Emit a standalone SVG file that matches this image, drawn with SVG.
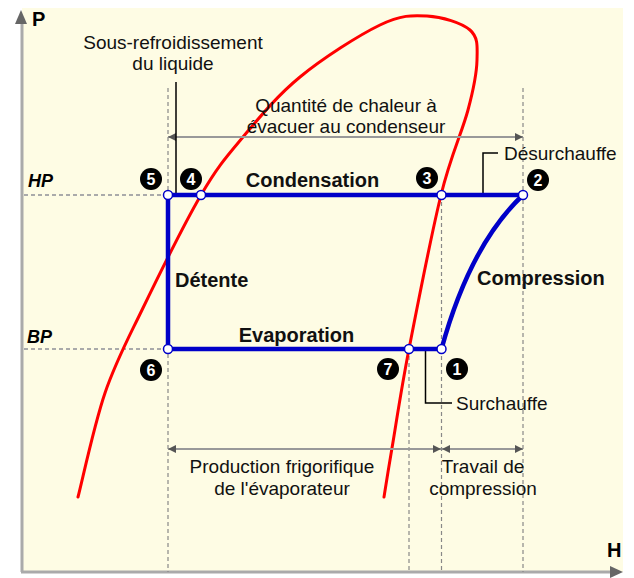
<svg xmlns="http://www.w3.org/2000/svg" width="634" height="578" viewBox="0 0 634 578">
<defs>
<style>
.reg{font-family:"Liberation Sans",Arial,sans-serif;font-size:19px;fill:#111}
.bold{font-family:"Liberation Sans",Arial,sans-serif;font-size:20px;font-weight:bold;fill:#111}
.axl{font-family:"Liberation Sans",Arial,sans-serif;font-size:20px;font-weight:bold;fill:#000}
.ital{font-family:"Liberation Sans",Arial,sans-serif;font-size:18px;font-weight:bold;font-style:italic;fill:#000}
.num{font-family:"Liberation Sans",Arial,sans-serif;font-size:16px;font-weight:bold;fill:#fff;text-anchor:middle}
.guide{stroke:#888;stroke-width:1.2;stroke-dasharray:4 3;fill:none}
.guideh{stroke:#aaa;stroke-width:2;stroke-dasharray:4 3;fill:none}
.dim{stroke:#999;stroke-width:2;fill:none}
.lead{stroke:#000;stroke-width:1.5;fill:none}
.cycle{stroke:#0000C8;stroke-width:4.5;fill:none;stroke-linejoin:round}
.pt{fill:#fff;stroke:#0000C8;stroke-width:1.5}
.badge{fill:#000}
</style>
<marker id="ah" viewBox="0 0 8 8" refX="8" refY="4" markerWidth="8" markerHeight="8" markerUnits="userSpaceOnUse" orient="auto-start-reverse">
<path d="M0,0 L8,4 L0,8 Z" fill="#555"/>
</marker>
</defs>
<rect x="0" y="0" width="634" height="578" fill="#fff"/>
<rect x="22" y="8" width="601" height="564" fill="#FEFCE4"/>

<g id="axes">
<line x1="22" y1="572" x2="22" y2="22" stroke="#aaa" stroke-width="3"/>
<path d="M21,10 L15,24 L27,24 Z" fill="#666"/>
<line x1="21" y1="572" x2="612" y2="572" stroke="#aaa" stroke-width="3"/>
<path d="M623,572 L610,566 L610,578 Z" fill="#666"/>
<text class="axl" x="32" y="26">P</text>
<text class="axl" x="607" y="557">H</text>
<text class="ital" x="28" y="187">HP</text>
<text class="ital" x="27" y="343">BP</text>
</g>

<g id="guides">
<line class="guideh" x1="24" y1="195" x2="168" y2="195"/>
<line class="guideh" x1="24" y1="349" x2="168" y2="349"/>
<line class="guide" x1="168" y1="88" x2="168" y2="572"/>
<line class="guide" x1="409" y1="349" x2="409" y2="572"/>
<line class="guide" x1="441.5" y1="195" x2="441.5" y2="572"/>
<line class="guide" x1="523" y1="88" x2="523" y2="572"/>
</g>

<g id="saturation-curve">
<path d="M78,497 C82.5,479.7 94.3,424.2 105,393 C115.7,361.8 126,343 142,310 C158,277 184.2,223.8 201,195 C217.8,166.2 226.5,156.7 243,137 C259.5,117.3 277.2,95.7 300,77 C322.8,58.3 358.8,35.2 380,25 C401.2,14.8 412,15.2 427,16 C442,16.8 461.7,22.7 470,30 C478.3,37.3 477.3,46.7 477,60 C476.7,73.3 474,87.5 468,110 C462,132.5 450.8,155.2 441,195 C431.2,234.8 417.2,306.8 409,349 C400.8,391.2 396.2,423.3 392,448 C387.8,472.7 385.3,488.8 384,497" fill="none" stroke="#ff0000" stroke-width="3" stroke-linecap="round"/>
</g>

<g id="dimensions">
<line class="dim" x1="168" y1="137" x2="523" y2="137" marker-start="url(#ah)" marker-end="url(#ah)"/>
<line class="dim" x1="168" y1="449" x2="441" y2="449" marker-start="url(#ah)" marker-end="url(#ah)"/>
<line class="dim" x1="442" y1="449" x2="523" y2="449" marker-start="url(#ah)" marker-end="url(#ah)"/>
</g>

<g id="leaders">
<polyline class="lead" points="176,82 176,195"/>
<polyline class="lead" points="483,195 483,153 498,153"/>
<polyline class="lead" points="425.5,351 425.5,403 452,403"/>
</g>

<g id="connectors">
<line class="cycle" x1="168" y1="195" x2="523" y2="195"/>
<line class="cycle" x1="168" y1="195" x2="168" y2="349"/>
<line class="cycle" x1="168" y1="349" x2="441.5" y2="349"/>
<path class="cycle" d="M441.5,349 Q470,245 523,195"/>
</g>

<g id="node-5"><circle class="pt" cx="168" cy="195" r="4.5"/><circle class="badge" cx="151" cy="179" r="11"/><text class="num" x="151" y="185">5</text></g>
<g id="node-4"><circle class="pt" cx="201" cy="195" r="4.5"/><circle class="badge" cx="191" cy="179" r="11"/><text class="num" x="191" y="185">4</text></g>
<g id="node-3"><circle class="pt" cx="441.5" cy="195" r="4.5"/><circle class="badge" cx="427" cy="178" r="11"/><text class="num" x="427" y="184">3</text></g>
<g id="node-2"><circle class="pt" cx="523" cy="195" r="4.5"/><circle class="badge" cx="538" cy="180" r="11"/><text class="num" x="538" y="186">2</text></g>
<g id="node-6"><circle class="pt" cx="168" cy="349" r="4.5"/><circle class="badge" cx="151" cy="370" r="11"/><text class="num" x="151" y="376">6</text></g>
<g id="node-7"><circle class="pt" cx="409" cy="349" r="4.5"/><circle class="badge" cx="388" cy="369" r="11"/><text class="num" x="388" y="375">7</text></g>
<g id="node-1"><circle class="pt" cx="441.5" cy="349" r="4.5"/><circle class="badge" cx="457" cy="369" r="11"/><text class="num" x="457" y="375">1</text></g>

<g id="labels">
<text class="reg" x="173" y="49" text-anchor="middle">Sous-refroidissement</text>
<text class="reg" x="173" y="70" text-anchor="middle">du liquide</text>
<text class="reg" x="346" y="112" text-anchor="middle">Quantité de chaleur à</text>
<text class="reg" x="346" y="133" text-anchor="middle">évacuer au condenseur</text>
<text class="reg" x="504" y="160">Désurchauffe</text>
<text class="reg" x="456" y="410">Surchauffe</text>
<text class="reg" x="282" y="473" text-anchor="middle">Production frigorifique</text>
<text class="reg" x="282" y="495" text-anchor="middle">de l'évaporateur</text>
<text class="reg" x="483" y="473" text-anchor="middle">Travail de</text>
<text class="reg" x="483" y="495" text-anchor="middle">compression</text>
<text class="bold" x="312.5" y="187" text-anchor="middle">Condensation</text>
<text class="bold" x="175" y="287">Détente</text>
<text class="bold" x="296.5" y="342" text-anchor="middle">Evaporation</text>
<text class="bold" x="477" y="285">Compression</text>
</g>
</svg>
